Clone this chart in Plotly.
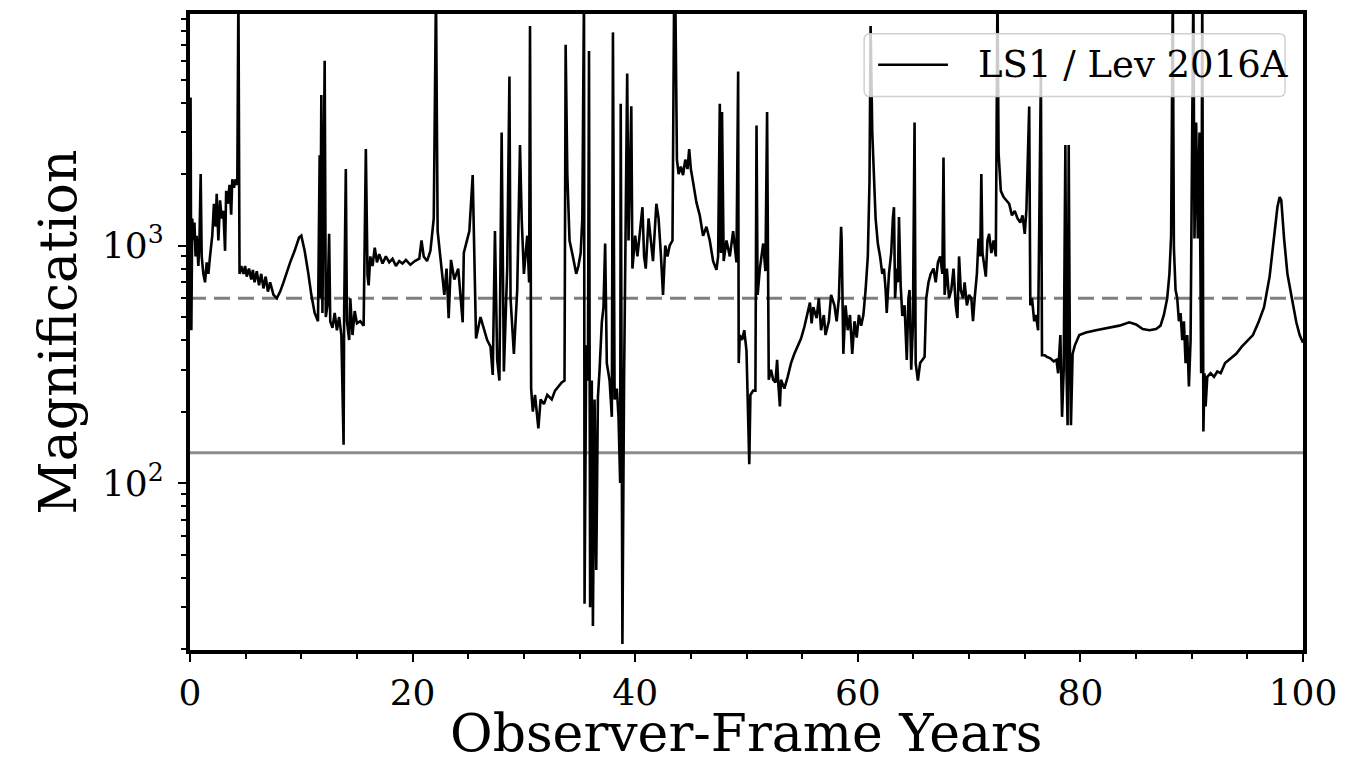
import plotly.graph_objects as go

# Observer-frame time (years) and magnification of the lensed source
years = [
    0.00, 0.05, 0.12, 0.20, 0.30, 0.40, 0.50, 0.60, 0.75, 0.85, 0.96, 1.05, 1.20, 1.35, 1.50,
    1.65, 1.80, 2.00, 2.15, 2.30, 2.40, 2.55, 2.70, 2.85, 3.00, 3.15, 3.25, 3.40, 3.55, 3.70,
    3.80, 3.95, 4.10, 4.25, 4.35, 4.45, 4.60, 4.80, 4.95, 5.10, 5.30, 5.50, 5.65, 5.80, 6.00,
    6.20, 6.40, 6.60, 6.80, 7.00, 7.20, 7.50, 7.80, 8.10, 8.40, 8.70, 9.00, 9.40, 9.80, 10.00,
    10.30, 10.60, 10.90, 11.20, 11.50, 11.65, 11.70, 11.80, 11.90, 12.10, 12.20, 12.35, 12.50,
    12.60, 12.80, 13.00, 13.20, 13.40, 13.60, 13.80, 13.85, 14.00, 14.10, 14.30, 14.40, 14.60,
    14.80, 15.00, 15.30, 15.60, 15.80, 15.95, 16.05, 16.20, 16.40, 16.60, 16.80, 17.00, 17.30,
    17.60, 17.90, 18.20, 18.50, 18.80, 19.10, 19.40, 19.80, 20.20, 20.60, 20.80, 21.00, 21.30,
    21.60, 21.90, 22.10, 22.25, 22.50, 22.85, 23.05, 23.24, 23.45, 23.75, 24.10, 24.50, 24.60,
    25.10, 25.40, 25.70, 26.10, 26.40, 26.70, 27.00, 27.20, 27.40, 27.60, 27.80, 28.00, 28.20,
    28.50, 28.70, 28.80, 29.10, 29.40, 29.65, 29.80, 30.00, 30.30, 30.47, 30.55, 30.65, 30.80,
    31.00, 31.30, 31.50, 31.80, 32.10, 32.50, 32.80, 33.10, 33.40, 33.65, 33.75, 33.90, 34.10,
    34.40, 34.70, 34.90, 35.10, 35.25, 35.40, 35.45, 35.60, 35.75, 35.85, 35.95, 36.10, 36.20,
    36.35, 36.50, 36.65, 36.80, 37.00, 37.15, 37.30, 37.45, 37.70, 37.90, 38.00, 38.15, 38.35,
    38.50, 38.65, 38.70, 38.85, 39.00, 39.20, 39.28, 39.40, 39.65, 39.75, 40.00, 40.20, 40.50,
    40.65, 40.80, 40.95, 41.20, 41.40, 41.60, 41.90, 42.10, 42.30, 42.50, 42.70, 42.90, 43.10,
    43.35, 43.50, 43.60, 43.75, 43.90, 44.10, 44.30, 44.50, 44.70, 44.85, 45.00, 45.20, 45.50,
    45.80, 46.10, 46.40, 46.70, 47.00, 47.30, 47.45, 47.60, 47.70, 47.80, 47.95, 48.20, 48.50,
    48.80, 49.10, 49.25, 49.30, 49.40, 49.60, 49.80, 50.00, 50.10, 50.25, 50.35, 50.60, 50.80,
    50.90, 51.00, 51.20, 51.50, 51.70, 51.85, 52.00, 52.20, 52.40, 52.60, 52.75, 52.85, 53.00,
    53.10, 53.40, 53.70, 54.00, 54.30, 54.60, 54.90, 55.20, 55.50, 55.70, 55.85, 56.00, 56.30,
    56.50, 56.70, 56.95, 57.10, 57.40, 57.60, 57.90, 58.10, 58.30, 58.50, 58.55, 58.70, 58.90,
    59.10, 59.30, 59.50, 59.70, 59.90, 60.10, 60.30, 60.50, 60.70, 60.90, 61.05, 61.15, 61.30,
    61.45, 61.60, 61.80, 62.00, 62.20, 62.35, 62.50, 62.60, 62.80, 63.00, 63.15, 63.25, 63.35,
    63.50, 63.60, 63.70, 63.85, 64.00, 64.20, 64.40, 64.55, 64.65, 64.80, 64.95, 65.10, 65.20,
    65.40, 65.60, 65.80, 66.00, 66.15, 66.35, 66.55, 66.80, 67.00, 67.20, 67.40, 67.60, 67.70,
    67.80, 68.00, 68.20, 68.40, 68.60, 68.80, 68.95, 69.10, 69.25, 69.45, 69.60, 69.80, 70.00,
    70.20, 70.35, 70.50, 70.70, 70.85, 71.00, 71.10, 71.20, 71.40, 71.50, 71.65, 71.80, 72.00,
    72.20, 72.40, 72.55, 72.65, 72.85, 73.10, 73.35, 73.60, 73.85, 74.10, 74.35, 74.60, 74.80,
    75.00, 75.15, 75.40, 75.50, 75.65, 75.85, 76.00, 76.20, 76.45, 76.55, 76.80, 77.00, 77.30,
    77.60, 77.85, 78.00, 78.20, 78.35, 78.50, 78.65, 78.75, 78.85, 78.95, 79.05, 79.15, 79.30,
    79.50, 79.90, 80.50, 81.40, 82.50, 83.50, 84.40, 85.00, 85.60, 86.20, 86.80, 87.20, 87.50,
    87.80, 88.00, 88.15, 88.30, 88.40, 88.55, 88.70, 88.85, 89.00, 89.15, 89.30, 89.45, 89.60,
    89.75, 89.90, 90.05, 90.15, 90.25, 90.40, 90.55, 90.70, 90.85, 90.95, 91.05, 91.15, 91.25,
    91.40, 91.70, 92.00, 92.30, 92.60, 93.00, 93.50, 94.00, 94.50, 95.00, 95.50, 96.00, 96.50,
    97.00, 97.40, 97.70, 97.90, 98.05, 98.30, 98.60, 99.00, 99.40, 99.70, 100.00,
]

magnification = [
    1000, 4200, 440, 1300, 1050, 1250, 900, 1100, 820, 1050, 2000, 900, 760, 700, 850,
    760, 900, 1100, 1500, 1200, 1650, 1050, 1550, 1300, 1400, 950, 1700, 1500, 1800, 1350,
    1900, 1750, 1900, 1800, 12000, 760, 820, 760, 820, 740, 800, 720, 790, 700, 780,
    680, 760, 660, 740, 640, 700, 620, 600, 640, 700, 780, 850, 950, 1080, 1100,
    950, 780, 620, 520, 480, 2400, 600, 4300, 520, 6000, 500, 560, 1120,
    480, 450, 520, 440, 500, 420, 145, 520, 2100, 480, 400, 600, 420,
    530, 470, 480, 460, 2550, 750, 680, 900, 820, 980, 850, 920, 840,
    900, 850, 880, 820, 860, 840, 870, 830, 860, 880, 1050, 900, 860,
    950, 1300, 12000, 1150, 900, 620, 800, 495, 870, 720, 800, 475, 930,
    1150, 1980, 406, 500, 450, 400, 375, 285, 1150, 330, 270, 2990, 295,
    800, 5150, 600, 350, 650, 2650, 1300, 760, 1100, 700, 8400, 250, 200,
    235, 170, 225, 215, 235, 225, 245, 255, 265, 270, 7000, 2000, 1050,
    900, 760, 820, 930, 1300, 12000, 31, 380, 270, 6600, 30, 270, 25,
    225, 43, 230, 300, 475, 550, 1020, 320, 270, 190, 7900, 225, 250,
    190, 100, 3950, 21, 270, 2000, 5300, 1050, 3860, 800, 1100, 900, 1300,
    1450, 900, 800, 1300, 1050, 860, 1500, 1300, 930, 620, 1000, 900, 1000,
    1050, 12000, 12000, 2300, 2000, 2150, 1980, 2300, 2100, 2550, 2100, 1850, 1520,
    1340, 1100, 1200, 1050, 860, 790, 900, 3950, 930, 3650, 860, 1050, 900,
    1150, 850, 5400, 320, 420, 400, 440, 360, 245, 120, 235, 245, 245,
    3200, 620, 800, 1020, 780, 3650, 272, 300, 272, 265, 330, 265, 210,
    272, 250, 280, 320, 350, 375, 406, 455, 520, 575, 470, 550, 495,
    600, 440, 510, 420, 480, 620, 560, 480, 600, 1200, 1050, 350, 560,
    440, 510, 350, 480, 410, 510, 460, 510, 650, 900, 1850, 8400, 3000,
    1850, 1300, 1020, 900, 760, 800, 650, 520, 760, 930, 1300, 1450, 600,
    800, 700, 1320, 680, 505, 560, 330, 600, 650, 300, 460, 3300, 320,
    270, 320, 330, 340, 600, 700, 760, 800, 700, 850, 900, 760, 2350,
    620, 800, 600, 650, 800, 560, 495, 900, 650, 600, 700, 560, 620,
    600, 480, 600, 760, 1070, 900, 2000, 930, 800, 740, 1050, 1120, 930,
    1050, 900, 12000, 2450, 1700, 1600, 1550, 1500, 1340, 1400, 1300, 1250, 1340,
    1120, 1420, 3850, 560, 600, 480, 510, 440, 5400, 345, 345, 340, 335,
    325, 330, 290, 420, 190, 300, 2650, 300, 175, 2650, 380, 175, 350,
    380, 420, 430, 440, 450, 460, 475, 465, 445, 440, 445, 460, 510,
    600, 760, 1100, 12000, 980, 650, 600, 480, 520, 400, 480, 320, 420,
    255, 400, 3300, 12000, 1070, 3300, 1070, 2990, 290, 12000, 165, 290, 210,
    280, 290, 280, 295, 290, 320, 335, 350, 375, 395, 420, 475, 550,
    740, 1070, 1450, 1600, 1550, 1070, 760, 600, 475, 420, 390,
]

# Reference levels drawn across the whole time span
DASHED_LEVEL = 600
SOLID_LEVEL = 134
X_SPAN = [0, 100]

SERIF = "DejaVu Serif"
TICK_SIZE = 36
TITLE_SIZE = 52

fig = go.Figure()

fig.add_trace(go.Scatter(
    x=X_SPAN, y=[DASHED_LEVEL, DASHED_LEVEL], mode="lines",
    line=dict(color="#7f7f7f", width=3, dash="16px,8px"),
    showlegend=False, hoverinfo="skip"))
fig.add_trace(go.Scatter(
    x=X_SPAN, y=[SOLID_LEVEL, SOLID_LEVEL], mode="lines",
    line=dict(color="#8c8c8c", width=3),
    showlegend=False, hoverinfo="skip"))
fig.add_trace(go.Scatter(
    x=years, y=magnification, mode="lines", name="LS1 / Lev 2016A",
    line=dict(color="black", width=2.6), showlegend=False))

axis_common = dict(
    showline=True, linewidth=4, linecolor="black", mirror=True,
    showgrid=False, zeroline=False,
    ticks="outside", ticklen=8, tickwidth=2, tickcolor="black",
    tickfont=dict(family=SERIF, size=TICK_SIZE, color="black"),
)

fig.update_xaxes(
    **axis_common,
    range=[0, 100],
    tickvals=[0, 20, 40, 60, 80, 100],
    minor=dict(tickvals=[5, 10, 15, 25, 30, 35, 45, 50, 55, 65, 70, 75, 85, 90, 95],
               ticks="outside", ticklen=5, tickwidth=1.5, tickcolor="black"),
)

minor_y = [20, 30, 40, 50, 60, 70, 80, 90,
           200, 300, 400, 500, 600, 700, 800, 900,
           2000, 3000, 4000, 5000, 6000, 7000, 8000, 9000]
fig.update_yaxes(
    **axis_common,
    type="log",
    range=[1.297, 3.975],
    tickvals=[100, 1000],
    ticktext=["10<sup>2</sup>", "10<sup>3</sup>"],
    ticklabelstandoff=7,
    minor=dict(tickvals=minor_y, ticks="outside", ticklen=5, tickwidth=1.5, tickcolor="black"),
    title=dict(text="Magnification", font=dict(family=SERIF, size=TITLE_SIZE, color="black"),
               standoff=10),
)

# X-axis caption placed close under the tick labels
fig.add_annotation(text="Observer-Frame Years", xref="paper", yref="paper",
                   x=0.5, y=-0.13, xanchor="center", yanchor="middle", showarrow=False,
                   font=dict(family=SERIF, size=TITLE_SIZE, color="black"))

# Legend box in the upper right corner of the axes
bx0, bx1, by0, by1 = 0.6057, 0.9839, 0.8703, 0.9688
rx, ry = 0.0054, 0.0094
box_path = (
    f"M {bx0 + rx} {by0} L {bx1 - rx} {by0} Q {bx1} {by0} {bx1} {by0 + ry} "
    f"L {bx1} {by1 - ry} Q {bx1} {by1} {bx1 - rx} {by1} "
    f"L {bx0 + rx} {by1} Q {bx0} {by1} {bx0} {by1 - ry} "
    f"L {bx0} {by0 + ry} Q {bx0} {by0} {bx0 + rx} {by0} Z"
)
fig.add_shape(type="path", path=box_path, xref="paper", yref="paper",
              fillcolor="rgba(255,255,255,0.8)", line=dict(color="rgba(204,204,204,0.9)", width=1.5),
              layer="above")
fig.add_shape(type="line", xref="paper", yref="paper",
              x0=0.6183, x1=0.6810, y0=0.9203, y1=0.9203,
              line=dict(color="black", width=2.6), layer="above")
fig.add_annotation(text="LS1 / Lev 2016A", xref="paper", yref="paper",
                   x=0.7061, y=0.9203, xanchor="left", yanchor="middle", showarrow=False,
                   font=dict(family=SERIF, size=37, color="black"))

fig.update_layout(
    width=1347, height=768,
    margin=dict(l=190, r=37, t=10, b=118),
    plot_bgcolor="white", paper_bgcolor="white",
    showlegend=False,
)

fig.write_html("out.html")
